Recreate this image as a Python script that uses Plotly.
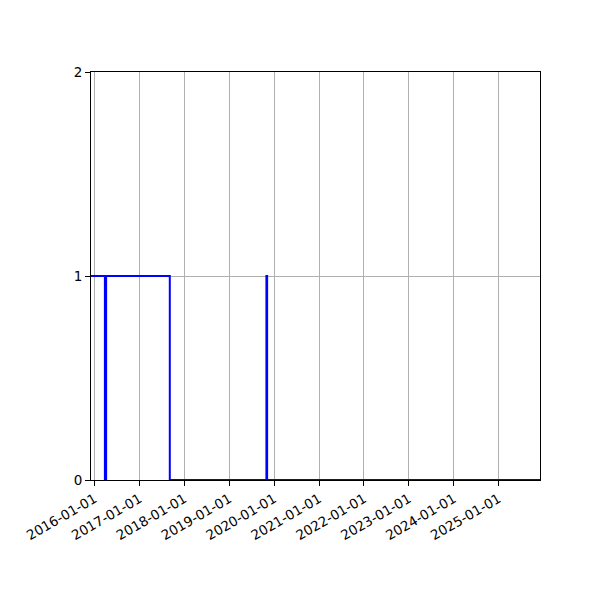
import plotly.graph_objects as go

# Data (step series)
dates = ['2015-12-03', '2016-03-25', '2016-04-04', '2017-09-04',
         '2019-10-30', '2019-11-05', '2025-12-03']
values = [1, 0, 1, 0, 1, 0, 0]

tick_dates = ['2016-01-01', '2017-01-01', '2018-01-01', '2019-01-01', '2020-01-01',
              '2021-01-01', '2022-01-01', '2023-01-01', '2024-01-01', '2025-01-01']
y_ticks = [0, 1, 2]

fig = go.Figure()
fig.add_trace(go.Scatter(
    x=dates, y=values, mode='lines', line_shape='hv',
    line=dict(color='#0000ff', width=2), showlegend=False,
))

axis_common = dict(
    showline=True, linecolor='black', linewidth=1, mirror=True,
    ticks='outside', ticklen=5, tickwidth=1, tickcolor='black',
    showgrid=True, gridcolor='#b0b0b0', gridwidth=1,
    zeroline=False,
    tickfont=dict(family='DejaVu Sans', size=13.5, color='black'),
)

fig.update_xaxes(
    type='date', range=[dates[0], dates[-1]],
    tickvals=tick_dates, ticktext=tick_dates, tickangle=-30,
    **axis_common,
)
fig.update_yaxes(
    range=[0, 2], tickvals=y_ticks, ticktext=[str(v) for v in y_ticks],
    **axis_common,
)

fig.update_layout(
    width=600, height=600,
    margin=dict(l=83, r=68, t=64, b=128),
    plot_bgcolor='white', paper_bgcolor='white',
    font=dict(family='DejaVu Sans'),
)

fig.write_html('out.html')
